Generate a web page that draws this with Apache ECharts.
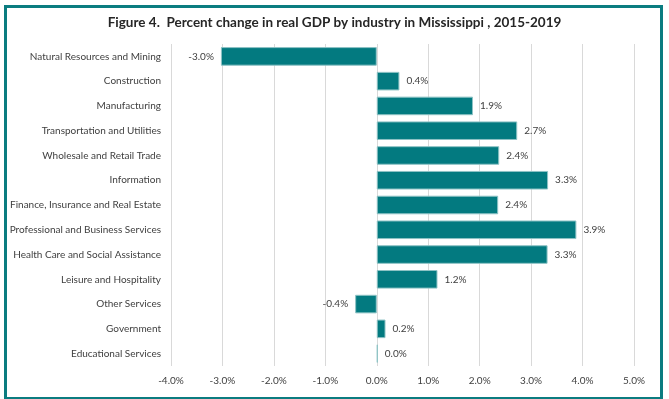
<!DOCTYPE html>
<html>
<head>
<meta charset="utf-8">
<script src="https://cdn.jsdelivr.net/npm/echarts@6/dist/echarts.min.js"></script>
<style>
html,body{margin:0;padding:0;background:#fff;}
#chart{width:669px;height:399px;}
</style>
</head>
<body>
<div id="chart"></div>
<script>
const industries = ['Natural Resources and Mining','Construction','Manufacturing','Transportation and Utilities','Wholesale and Retail Trade','Information','Finance, Insurance and Real Estate','Professional and Business Services','Health Care and Social Assistance','Leisure and Hospitality','Other Services','Government','Educational Services']
// bar lengths; labels show one decimal
const pctChange = [-3.03,0.44,1.87,2.73,2.38,3.33,2.36,3.88,3.32,1.18,-0.42,0.17,0.02]
const axisMin = -4, axisMax = 5, axisStep = 1

const chart = echarts.init(document.getElementById('chart'))
const font = 'Lato, "Open Sans", sans-serif'

chart.setOption({
    animation: false,
    title: {
        text: 'Figure 4.  Percent change in real GDP by industry in Mississippi , 2015-2019',
        left: 'center', top: 11,
        textStyle: { fontFamily: font, fontSize: 13.5, fontWeight: 'bold', color: '#262626' }
    },
    graphic: [{
        type: 'rect', left: 3, top: 4,
        shape: { width: 656, height: 392 },
        style: { fill: 'none', stroke: '#0b7c80', lineWidth: 3 }
    }],
    grid: { left: 171, right: 35, top: 44, bottom: 33 },
    xAxis: {
        type: 'value', min: axisMin, max: axisMax, interval: axisStep,
        axisLine: { show: false }, axisTick: { show: false },
        splitLine: { lineStyle: { color: '#d9d9d9', width: 1 } },
        axisLabel: { fontFamily: font, fontSize: 10, color: '#404040', margin: 10,
            formatter: v => v.toFixed(1) + '%' }
    },
    yAxis: {
        type: 'category', data: industries, inverse: true,
        axisLine: { show: false }, axisTick: { show: false },
        axisLabel: { fontFamily: font, fontSize: 10, color: '#404040', margin: 10 }
    },
    series: [{
        type: 'bar',
        barCategoryGap: '25%',
        data: pctChange.map(v => ({
            value: v,
            label: { position: v < 0 ? 'left' : 'right' }
        })),
        itemStyle: { color: '#037a80', borderColor: '#8ec3c5', borderWidth: 1 },
        label: { show: true, fontFamily: font, fontSize: 10, color: '#404040', distance: 7,
            formatter: p => p.value.toFixed(1) + '%' }
    }]
})
window.addEventListener('resize', () => chart.resize())
</script>
</body>
</html>
